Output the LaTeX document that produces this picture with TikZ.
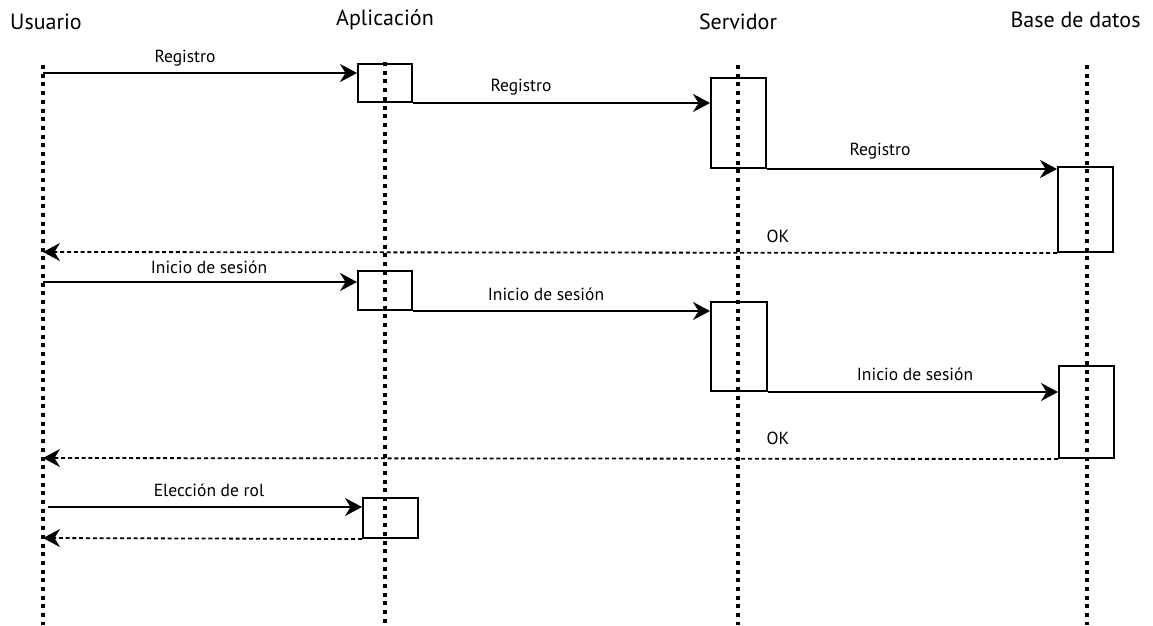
\documentclass[tikz,border=0pt]{standalone}
\usepackage{fontspec}
\setmainfont{PT Sans}
\usetikzlibrary{arrows.meta}
\begin{document}
\begin{tikzpicture}[x=1pt,y=-1pt,
  head/.style={font=\fontsize{22}{26}\selectfont, inner sep=0pt},
  lbl/.style={font=\fontsize{17.5}{21}\selectfont, inner sep=0pt},
  life/.style={line width=3.4pt, dash pattern=on 4pt off 4.7pt},
  act/.style={draw, line width=2pt, minimum width=#1, inner sep=0pt},
  msg/.style={line width=2pt, -{Stealth[length=17pt,width=18pt]}},
  ret/.style={line width=1.8pt, dash pattern=on 4pt off 2.8pt, -{Stealth[length=17pt,width=18pt]}}
]
\useasboundingbox (0,0) rectangle (1153,625);
% headers
\node[head] (hU) at (46,22) {Usuario};
\node[head] (hA) at (385,20) {Aplicación};
\node[head] (hS) at (738,22) {Servidor};
\node[head] (hD) at (1075.5,20) {Base de datos};
% lifelines
\coordinate (uTop) at (43,65);  \coordinate (uBot) at (43,625);
\coordinate (aTop) at (385,62); \coordinate (aBot) at (385,625);
\coordinate (sTop) at (738,65); \coordinate (sBot) at (738,625);
\coordinate (dTop) at (1087,65); \coordinate (dBot) at (1087,625);
\draw[life] (uTop) -- (uBot);
\draw[life] (aTop) -- (aBot);
\draw[life] (sTop) -- (sBot);
\draw[life] (dTop) -- (dBot);
% activation boxes
\node[act=54pt, minimum height=38pt] (a1) at (385,83) {};
\node[act=55pt, minimum height=90pt] (s1) at (738.5,123) {};
\node[act=55pt, minimum height=85pt] (d1) at (1085.5,209.5) {};
\node[act=54pt, minimum height=39pt] (a2) at (385,290.5) {};
\node[act=56pt, minimum height=89pt] (s2) at (739,346.5) {};
\node[act=55pt, minimum height=92pt] (d2) at (1086.5,412) {};
\node[act=55pt, minimum height=40pt] (a3) at (390.5,518) {};
% message anchors on Usuario lifeline
\coordinate (u1) at (43,73);
\coordinate (u2) at (43,252);
\coordinate (u3) at (43,282);
\coordinate (u4) at (43,458);
\coordinate (u5) at (48,507);
\coordinate (u6) at (43,538);
% messages
\draw[msg] (u1) -- (u1 -| a1.west);
\draw[msg] (a1.south east) -- (a1.south east -| s1.west);
\draw[msg] (s1.south east) -- (s1.south east -| d1.west);
\draw[ret] (d1.south west) -- (u2);
\draw[msg] (u3) -- (u3 -| a2.west);
\draw[msg] (a2.south east) -- (a2.south east -| s2.west);
\draw[msg] (s2.south east) -- (s2.south east -| d2.west);
\draw[ret] (d2.south west) -- (u4);
\draw[msg] (u5) -- (u5 -| a3.west);
\draw[ret] (a3.south west) -- (u6);
% labels
\node[lbl] (l1) at (185,58) {Registro};
\node[lbl] (l2) at (521,87) {Registro};
\node[lbl] (l3) at (880,151) {Registro};
\node[lbl] (l4) at (778,236) {OK};
\node[lbl] (l5) at (209,267) {Inicio de sesión};
\node[lbl] (l6) at (546,294) {Inicio de sesión};
\node[lbl] (l7) at (915,374) {Inicio de sesión};
\node[lbl] (l8) at (778,438) {OK};
\node[lbl] (l9) at (209,490) {Elección de rol};
\end{tikzpicture}
\end{document}
